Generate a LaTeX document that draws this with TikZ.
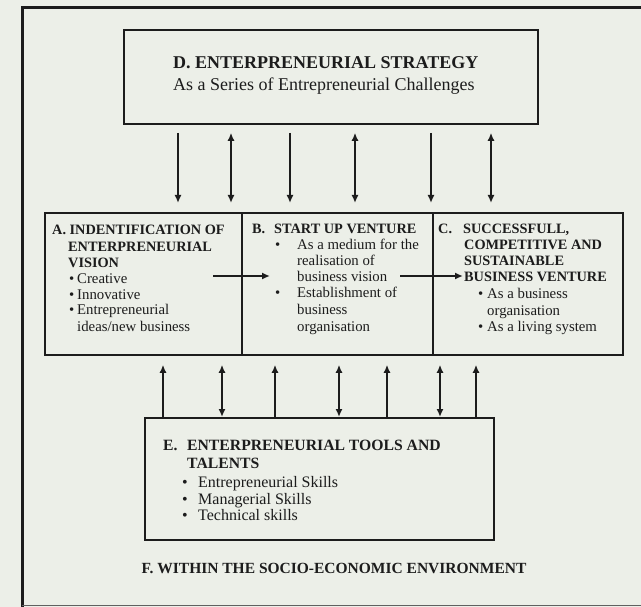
\documentclass[tikz,border=0pt]{standalone}
\usepackage{fontspec}
\setmainfont{Liberation Serif}
\usetikzlibrary{arrows.meta}
\definecolor{paper}{RGB}{236,239,232}
\definecolor{ink}{RGB}{28,28,28}
\tikzset{
  boxnode/.style={draw=ink, line width=1.8pt, rectangle, inner sep=0pt, anchor=north west},
  outerline/.style={draw=ink, line width=3pt},
  conn/.style={draw=ink, line width=1.7pt},
  arrfwd/.style={conn, -{Latex[length=8pt,width=7pt]}},
  arrback/.style={conn, {Latex[length=8pt,width=7pt]}-},
  arrtwo/.style={conn, {Latex[length=8pt,width=7pt]}-{Latex[length=8pt,width=7pt]}},
  txt/.style={anchor=base west, inner sep=0pt, text=ink, font=\fontsize{14.8}{16}\selectfont},
  hd/.style={anchor=base west, inner sep=0pt, text=ink, font=\fontsize{14.3}{16}\selectfont\bfseries},
  etxt/.style={txt, font=\fontsize{16}{16}\selectfont},
  ehd/.style={hd, font=\fontsize{15.7}{16}\selectfont\bfseries},
  dtxt/.style={txt, font=\fontsize{18}{20}\selectfont},
  dhd/.style={hd, font=\fontsize{18}{20}\selectfont\bfseries},
}
\begin{document}
\begin{tikzpicture}[x=1pt,y=-1pt]
\useasboundingbox (0,0) rectangle (641,607);
\fill[paper] (0,0) rectangle (641,607);
% outer frame
\draw[outerline] (22,607) -- (22,8) -- (660,8);
\draw[draw=ink!70, line width=0.8pt] (22,605) -- (660,605);

% boxes
\node[boxnode, minimum width=414pt, minimum height=94pt] (D) at (123,29) {};
\node[boxnode, minimum width=197pt, minimum height=142pt] (A) at (44,212) {};
\node[boxnode, minimum width=191pt, minimum height=142pt] (B) at (241,212) {};
\node[boxnode, minimum width=190pt, minimum height=142pt] (C) at (432,212) {};
\node[boxnode, minimum width=349pt, minimum height=122pt] (E) at (144,417) {};

% D text
\node[dhd]  (d1) at (173,69) {D. ENTERPRENEURIAL STRATEGY};
\node[dtxt] (d2) at (173,91) {As a Series of Entrepreneurial Challenges};

% A text
\node[hd]  (a1) at (52,235) {A. INDENTIFICATION OF};
\node[hd]  (a2) at (68,252) {ENTERPRENEURIAL};
\node[hd]  (a3) at (68,268) {VISION};
\node[txt] (a4) at (69,284) {\makebox[8pt][l]{•}Creative};
\node[txt] (a5) at (69,300) {\makebox[8pt][l]{•}Innovative};
\node[txt] (a6) at (69,315) {\makebox[8pt][l]{•}Entrepreneurial};
\node[txt] (a7) at (77,331) {ideas/new business};

% B text
\node[hd]  (b1) at (252,234) {\makebox[22pt][l]{B.}START UP VENTURE};
\node[txt] (b2) at (275,250) {\makebox[22pt][l]{•}As a medium for the};
\node[txt] (b3) at (297,266) {realisation of};
\node[txt] (b4) at (297,282) {business vision};
\node[txt] (b5) at (275,298) {\makebox[22pt][l]{•}Establishment of};
\node[txt] (b6) at (297,315) {business};
\node[txt] (b7) at (297,331) {organisation};

% C text
\node[hd]  (c1) at (438,234) {\makebox[25pt][l]{C.}SUCCESSFULL,};
\node[hd]  (c2) at (464,250) {COMPETITIVE AND};
\node[hd]  (c3) at (464,266) {SUSTAINABLE};
\node[hd]  (c4) at (464,282) {BUSINESS VENTURE};
\node[txt] (c5) at (478,299) {\makebox[9pt][l]{•}As a business};
\node[txt] (c6) at (487,316) {organisation};
\node[txt] (c7) at (478,332) {\makebox[9pt][l]{•}As a living system};

% E text
\node[ehd]  (e1) at (163,450) {\makebox[24pt][l]{E.}ENTERPRENEURIAL TOOLS AND};
\node[ehd]  (e2) at (187,468) {TALENTS};
\node[etxt] (e3) at (182,487) {\makebox[16pt][l]{•}Entrepreneurial Skills};
\node[etxt] (e4) at (182,504) {\makebox[16pt][l]{•}Managerial Skills};
\node[etxt] (e5) at (182,520) {\makebox[16pt][l]{•}Technical skills};

% F text
\node[hd, anchor=base, font=\fontsize{15.5}{16}\selectfont\bfseries] (f1) at (334,573) {F. WITHIN THE SOCIO-ECONOMIC ENVIRONMENT};

% x positions of vertical connectors
\coordinate (u1) at (178,0);
\coordinate (u2) at (231,0);
\coordinate (u3) at (290,0);
\coordinate (u4) at (355,0);
\coordinate (u5) at (431,0);
\coordinate (u6) at (491,0);
\coordinate (l1) at (163,0);
\coordinate (l2) at (222,0);
\coordinate (l3) at (275,0);
\coordinate (l4) at (339,0);
\coordinate (l5) at (387,0);
\coordinate (l6) at (440,0);
\coordinate (l7) at (476,0);

% D <-> A, B, C
\draw[arrfwd, shorten <=8pt, shorten >=9pt] (D.south -| u1) -- (A.north -| u1);
\draw[arrtwo, shorten <=8pt, shorten >=9pt] (D.south -| u2) -- (A.north -| u2);
\draw[arrfwd, shorten <=8pt, shorten >=9pt] (D.south -| u3) -- (B.north -| u3);
\draw[arrtwo, shorten <=8pt, shorten >=9pt] (D.south -| u4) -- (B.north -| u4);
\draw[arrfwd, shorten <=8pt, shorten >=9pt] (D.south -| u5) -- (B.north -| u5);
\draw[arrtwo, shorten <=8pt, shorten >=9pt] (D.south -| u6) -- (C.north -| u6);

% A, B, C <-> E
\draw[arrback, shorten <=9pt] (A.south -| l1) -- (E.north -| l1);
\draw[arrtwo,  shorten <=9pt] (A.south -| l2) -- (E.north -| l2);
\draw[arrback, shorten <=9pt] (B.south -| l3) -- (E.north -| l3);
\draw[arrtwo,  shorten <=9pt] (B.south -| l4) -- (E.north -| l4);
\draw[arrback, shorten <=9pt] (B.south -| l5) -- (E.north -| l5);
\draw[arrtwo,  shorten <=9pt] (C.south -| l6) -- (E.north -| l6);
\draw[arrback, shorten <=9pt] (C.south -| l7) -- (E.north -| l7);

% A -> B -> C
\coordinate (h1a) at (213,276);
\coordinate (h1b) at (270,276);
\coordinate (h2a) at (400,276);
\coordinate (h2b) at (463,276);
\draw[arrfwd] (h1a) -- (h1b);
\draw[arrfwd] (h2a) -- (h2b);
\end{tikzpicture}
\end{document}
